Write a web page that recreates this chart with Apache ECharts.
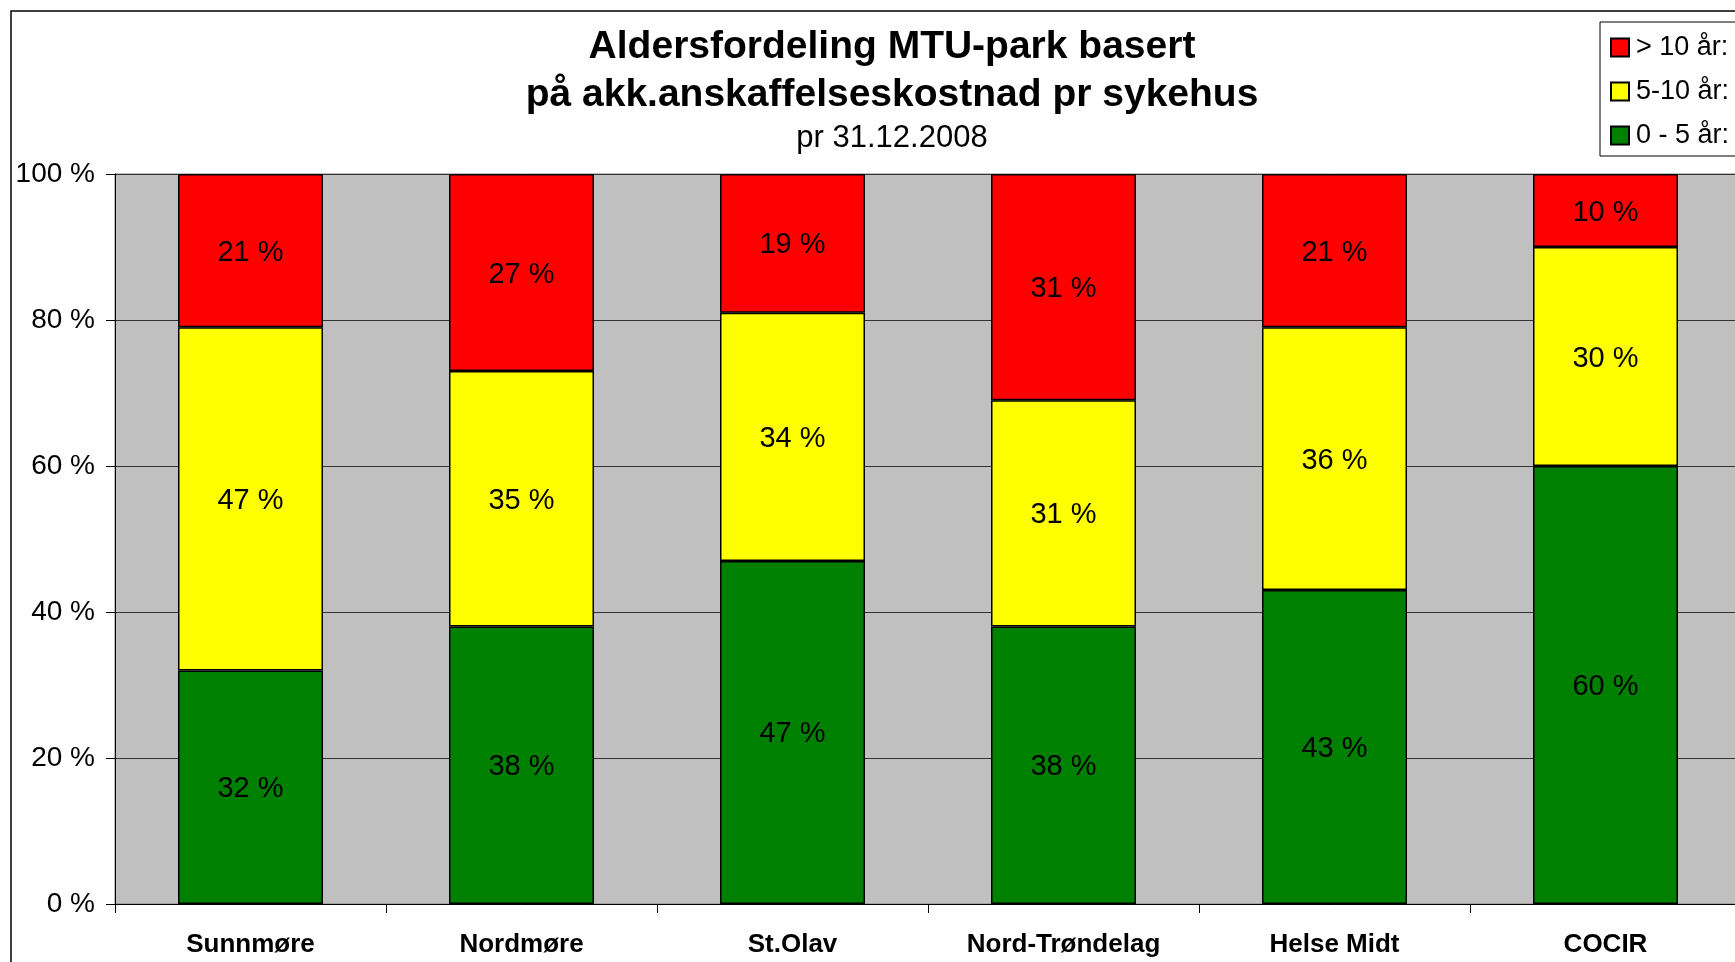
<!DOCTYPE html>
<html>
<head>
<meta charset="utf-8">
<title>Aldersfordeling MTU-park</title>
<script src="https://cdn.jsdelivr.net/npm/echarts@6/dist/echarts.min.js"></script>
<style>
  html, body { margin: 0; padding: 0; background: #fff; overflow: hidden; }
  /* the original chart is a bit wider than the window, it gets cut on the right */
  #chart { width: 1790px; height: 962px; }
</style>
</head>
<body>
<div id="chart"></div>
<script>
// data (percent of acquisition cost)
const hospitals = ['Sunnmøre', 'Nordmøre', 'St.Olav', 'Nord-Trøndelag', 'Helse Midt', 'COCIR']
const age0to5 = [32, 38, 47, 38, 43, 60]
const age5to10 = [47, 35, 34, 31, 36, 30]
const ageOver10 = [21, 27, 19, 31, 21, 10]
const yTicks = [0, 20, 40, 60, 80, 100]

const FONT = '"Liberation Sans", Arial, sans-serif'

const chart = echarts.init(document.getElementById('chart'))

function barSeries(name, data, color) {
  return {
    name: name,
    type: 'bar',
    stack: 'alder',
    barWidth: 145,
    data: data,
    itemStyle: {
      color: color,
      borderColor: '#000',
      borderWidth: 1.5
    },
    label: {
      show: true,
      position: 'inside',
      formatter: '{c} %',
      offset: [0, 2],
      color: '#000',
      fontFamily: FONT,
      fontSize: 29
    },
    emphasis: { disabled: true }
  }
}

chart.setOption({
  animation: false,
  textStyle: { fontFamily: FONT },
  graphic: [
    {
      type: 'rect',
      shape: { x: 11, y: 11, width: 1762, height: 1000 },
      style: { fill: 'none', stroke: '#000', lineWidth: 1.5 },
      z: -10
    },
    {
      type: 'text',
      x: 892, y: 47,
      style: {
        text: 'Aldersfordeling MTU-park basert',
        font: 'bold 39px ' + FONT,
        fill: '#000',
        textAlign: 'center',
        textVerticalAlign: 'middle'
      }
    },
    {
      type: 'text',
      x: 892, y: 95,
      style: {
        text: 'på akk.anskaffelseskostnad pr sykehus',
        font: 'bold 39px ' + FONT,
        fill: '#000',
        textAlign: 'center',
        textVerticalAlign: 'middle'
      }
    },
    {
      type: 'text',
      x: 892, y: 138,
      style: {
        text: 'pr 31.12.2008',
        font: '31px ' + FONT,
        fill: '#000',
        textAlign: 'center',
        textVerticalAlign: 'middle'
      }
    }
  ],
  legend: {
    orient: 'vertical',
    left: 1600,
    top: 22,
    data: ['> 10 år:', '5-10 år:', '0 - 5 år:'],
    icon: 'rect',
    itemWidth: 18,
    itemHeight: 18,
    itemGap: 15,
    padding: [11, 30, 6, 10],
    borderColor: '#000',
    borderWidth: 1,
    selectedMode: false,
    textStyle: {
      fontFamily: FONT,
      fontSize: 27,
      lineHeight: 29,
      color: '#000',
      padding: [0, 0, 0, 2]
    }
  },
  grid: {
    left: 115,
    top: 174,
    width: 1626,
    height: 730,
    show: true,
    backgroundColor: '#C0C0C0',
    borderColor: '#808080',
    borderWidth: 1
  },
  xAxis: {
    type: 'category',
    data: hospitals,
    axisLine: { lineStyle: { color: '#000', width: 1 } },
    axisTick: { show: true, length: 9, interval: 0, lineStyle: { color: '#000' } },
    axisLabel: {
      interval: 0,
      margin: 28,
      color: '#000',
      fontFamily: FONT,
      fontSize: 26,
      fontWeight: 'bold'
    }
  },
  yAxis: {
    type: 'value',
    min: yTicks[0],
    max: yTicks[yTicks.length - 1],
    interval: yTicks[1] - yTicks[0],
    axisLine: { show: true, lineStyle: { color: '#000', width: 1 } },
    axisTick: { show: true, length: 9, lineStyle: { color: '#000' } },
    axisLabel: {
      formatter: '{value} %',
      margin: 20,
      color: '#000',
      fontFamily: FONT,
      fontSize: 28
    },
    splitLine: { show: true, lineStyle: { color: '#333', width: 1 } }
  },
  series: [
    barSeries('0 - 5 år:', age0to5, '#008000'),
    barSeries('5-10 år:', age5to10, '#FFFF00'),
    barSeries('> 10 år:', ageOver10, '#FF0000')
  ]
})
</script>
</body>
</html>
